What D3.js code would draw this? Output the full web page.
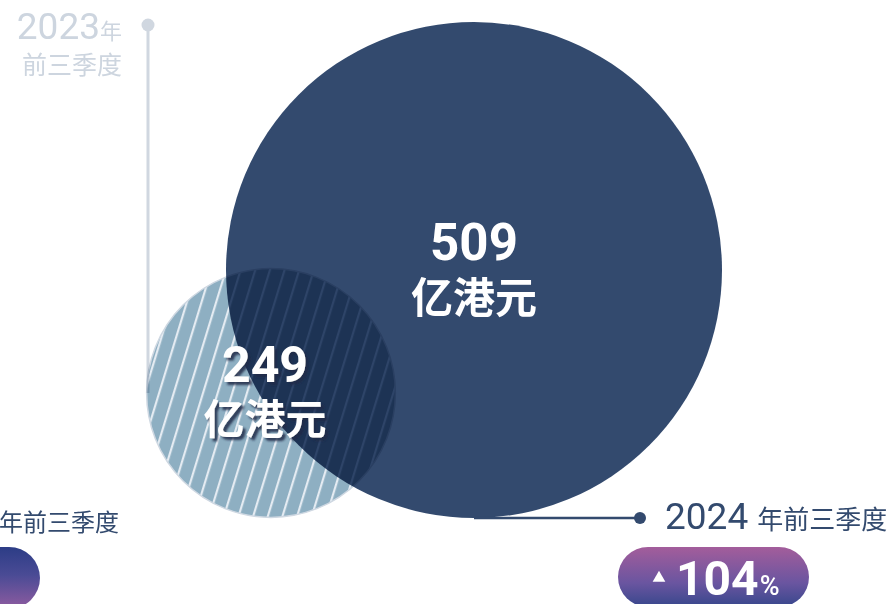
<!DOCTYPE html>
<html>
<head>
<meta charset="utf-8">
<script src="https://cdn.jsdelivr.net/npm/d3@7"></script>
<style>
  html, body { margin: 0; padding: 0; background: #fff; overflow: hidden; }
  text { font-family: Roboto, "Noto Sans CJK SC", sans-serif; }
  .cjk { font-family: "Noto Sans CJK SC", sans-serif; }
</style>
</head>
<body>
<div id="chart"></div>
<script>
// data
const years = ["2023", "2024"];
const periodLabel = "年前三季度";
const values = [249, 509];
const unitLabel = "亿港元";
const growthPct = 104;

const viewportWidth = 893;
const viewportHeight = 604;

const svg = d3.select("#chart")
  .append("svg")
  .attr("width", viewportWidth)
  .attr("height", viewportHeight);

const defs = svg.append("defs");

// stripes for the smaller (older) bubble
const stripes = defs.append("pattern")
  .attr("id", "stripes")
  .attr("patternUnits", "userSpaceOnUse")
  .attr("width", 14)
  .attr("height", 14)
  .attr("patternTransform", "rotate(17)");
stripes.append("rect").attr("width", 14).attr("height", 14).attr("fill", "#8eafc2");
stripes.append("rect").attr("x", 0).attr("width", 2.2).attr("height", 14).attr("fill", "#e4ebf2");

const pillGrad = defs.append("linearGradient")
  .attr("id", "pillGrad").attr("x1", 0).attr("y1", 0).attr("x2", 0).attr("y2", 1);
pillGrad.append("stop").attr("offset", "0%").attr("stop-color", "#a35d9b");
pillGrad.append("stop").attr("offset", "60%").attr("stop-color", "#6a55a0");
pillGrad.append("stop").attr("offset", "100%").attr("stop-color", "#37478c");

const pillGradRev = defs.append("linearGradient")
  .attr("id", "pillGradRev").attr("x1", 0).attr("y1", 0).attr("x2", 0).attr("y2", 1);
pillGradRev.append("stop").attr("offset", "0%").attr("stop-color", "#2c3d86");
pillGradRev.append("stop").attr("offset", "45%").attr("stop-color", "#4a4b95");
pillGradRev.append("stop").attr("offset", "100%").attr("stop-color", "#8f5ca0");

const shadow = defs.append("filter").attr("id", "shadow")
  .attr("x", "-20%").attr("y", "-20%").attr("width", "140%").attr("height", "140%");
shadow.append("feDropShadow").attr("dx", 3).attr("dy", 3).attr("stdDeviation", 1)
  .attr("flood-color", "#1b2b4a").attr("flood-opacity", 0.85);

// bubble radius, linear in value
const r = d3.scaleLinear().domain([0, d3.max(values)]).range([6, 248]);

const centers = [
  { x: 271, y: 393 },  // 2023
  { x: 474, y: 270 }   // 2024
];

// 2023 leader line + dot (behind everything)
svg.append("line")
  .attr("x1", 148).attr("y1", 25).attr("x2", 148).attr("y2", centers[0].y)
  .attr("stroke", "#d0d7e0").attr("stroke-width", 3);
svg.append("circle").attr("cx", 148).attr("cy", 25).attr("r", 6.5).attr("fill", "#d0d7e0");

const t23 = svg.append("text").attr("x", 122).attr("y", 39).attr("text-anchor", "end")
  .attr("fill", "#cdd5df");
t23.append("tspan").attr("font-size", 37).text(years[0]);
t23.append("tspan").attr("class", "cjk").attr("font-size", 22).text("年");
svg.append("text").attr("class", "cjk").attr("x", 122).attr("y", 74).attr("text-anchor", "end")
  .attr("font-size", 25).attr("fill", "#cdd5df").text(periodLabel.slice(1));

// big bubble
svg.append("circle")
  .attr("cx", centers[1].x).attr("cy", centers[1].y).attr("r", r(values[1]))
  .attr("fill", "#334a6e");

// small bubble, multiplied over the big one
svg.append("circle")
  .attr("cx", centers[0].x).attr("cy", centers[0].y).attr("r", r(values[0]))
  .attr("fill", "url(#stripes)")
  .attr("stroke", "#cfd8e2").attr("stroke-width", 1.5)
  .style("mix-blend-mode", "multiply");

// 2024 leader line + dot
const bigBottom = centers[1].y + r(values[1]);
svg.append("line")
  .attr("x1", centers[1].x).attr("y1", bigBottom).attr("x2", 640).attr("y2", bigBottom)
  .attr("stroke", "#334a6e").attr("stroke-width", 2.5);
svg.append("circle").attr("cx", 640).attr("cy", bigBottom).attr("r", 6).attr("fill", "#334a6e");

const t24 = svg.append("text").attr("x", 665).attr("y", 529).attr("fill", "#334a6e");
t24.append("tspan").attr("font-size", 37).text(years[1] + " ");
t24.append("tspan").attr("class", "cjk").attr("font-size", 26).text(periodLabel);

// left cropped label + pill
svg.append("text").attr("class", "cjk").attr("x", 119).attr("y", 531).attr("text-anchor", "end")
  .attr("font-size", 24).attr("fill", "#334a6e").text(periodLabel);
svg.append("rect").attr("x", -150).attr("y", 547).attr("width", 190).attr("height", 62).attr("rx", 31)
  .attr("fill", "url(#pillGradRev)");

// growth pill
svg.append("rect").attr("x", 618).attr("y", 547).attr("width", 191).attr("height", 60).attr("rx", 30)
  .attr("fill", "url(#pillGrad)");
svg.append("path").attr("d", d3.symbol(d3.symbolTriangle, 70)())
  .attr("transform", "translate(659,578)").attr("fill", "#fff");
const tg = svg.append("text").attr("x", 676).attr("y", 595).attr("fill", "#fff");
tg.append("tspan").attr("font-size", 48).attr("font-weight", 700).text(growthPct);
tg.append("tspan").attr("font-size", 27).attr("font-weight", 500).attr("dx", 1).text("%");

// value labels
svg.append("text").attr("x", centers[1].x).attr("y", 260).attr("text-anchor", "middle")
  .attr("font-size", 51).attr("font-weight", 700).attr("fill", "#fff").text(values[1]);
svg.append("text").attr("class", "cjk").attr("x", centers[1].x).attr("y", 313).attr("text-anchor", "middle")
  .attr("font-size", 42).attr("font-weight", 700).attr("fill", "#fff").text(unitLabel);

svg.append("text").attr("x", 265).attr("y", 382).attr("text-anchor", "middle")
  .attr("font-size", 50).attr("font-weight", 700).attr("fill", "#fff")
  .attr("filter", "url(#shadow)").text(values[0]);
svg.append("text").attr("class", "cjk").attr("x", 265).attr("y", 434).attr("text-anchor", "middle")
  .attr("font-size", 41).attr("font-weight", 700).attr("fill", "#fff")
  .attr("filter", "url(#shadow)").text(unitLabel);
</script>
</body>
</html>
